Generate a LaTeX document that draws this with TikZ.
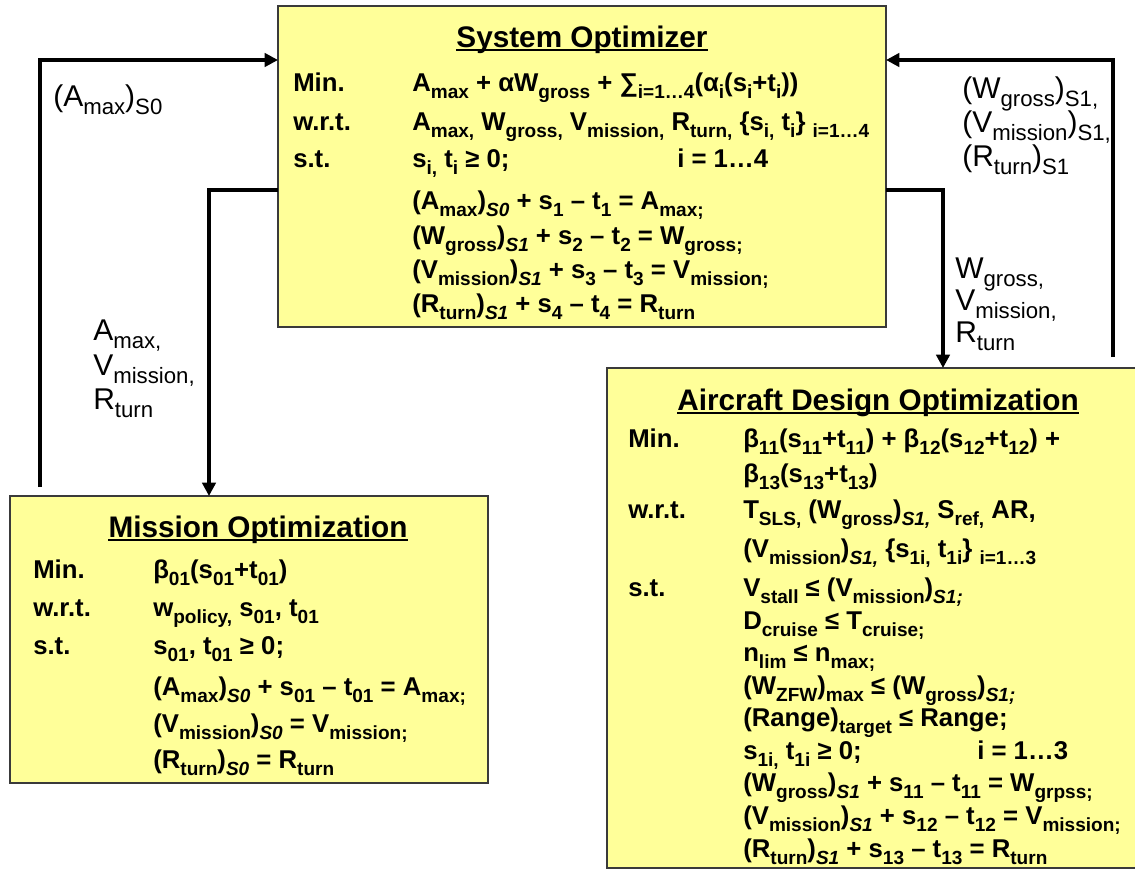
\documentclass[tikz,border=0pt]{standalone}
\usepackage{fontspec}
\setmainfont{Liberation Sans}
\usetikzlibrary{arrows.meta}
\newcommand{\sbx}[1]{\raisebox{-0.28em}{\scalebox{0.74}{#1}}}
\newcommand{\sS}[1]{\sbx{\itshape #1}}
\definecolor{boxfill}{HTML}{FFFF99}
\definecolor{boxline}{HTML}{3A3A3A}
\begin{document}
\begin{tikzpicture}[x=0.75pt,y=-0.75pt,
  box/.style={draw=boxline, line width=1.2pt, fill=boxfill, anchor=north west, inner sep=0pt, outer sep=0pt},
  body/.style={anchor=base west, inner sep=0pt, font=\fontsize{19.3}{23}\selectfont\bfseries},
  ttl/.style={anchor=base, inner sep=0pt, font=\fontsize{22.3}{26}\selectfont\bfseries},
  lbl/.style={anchor=base west, inner sep=0pt, font=\fontsize{22.5}{26}\selectfont},
  flow/.style={line width=3pt, -{Triangle[length=10pt,width=10pt]}},
  uline/.style={line width=1.5pt}]
\useasboundingbox (0,0) rectangle (1135,871);

% boxes
\node[box, minimum width=456pt, minimum height=240.75pt] (sys) at (278,6) {};
\node[box, minimum width=358.5pt, minimum height=215.25pt] (mis) at (10,496) {};
\node[box, minimum width=406.5pt, minimum height=375pt] (air) at (607,368) {};

% helper coordinates
\coordinate (p1) at (40,487);
\coordinate (p2) at (1113,357);
\coordinate (h1) at (0,60);
\coordinate (h2) at (0,190);
\coordinate (v1) at (209,0);
\coordinate (v2) at (943,0);

% connectors
\draw[flow] (p1) |- (sys.west |- h1);
\draw[flow] (sys.west |- h2) -| (v1 |- mis.north);
\draw[flow] (sys.east |- h2) -| (v2 |- air.north);
\draw[flow] (p2) |- (sys.east |- h1);

% connector labels
\node[lbl] (l1) at (53,106) {(A\sbx{max})\sbx{S0}};
\node[lbl] (l2) at (93,340) {A\sbx{max,}};
\node[lbl] (l3) at (93,375) {V\sbx{mission,}};
\node[lbl] (l4) at (93,409) {R\sbx{turn}};
\node[lbl] (r1) at (962,98) {(W\sbx{gross})\sbx{S1,}};
\node[lbl] (r2) at (962,132) {(V\sbx{mission})\sbx{S1,}};
\node[lbl] (r3) at (962,166) {(R\sbx{turn})\sbx{S1}};
\node[lbl] (r4) at (955,278) {W\sbx{gross,}};
\node[lbl] (r5) at (955,310) {V\sbx{mission,}};
\node[lbl] (r6) at (955,342) {R\sbx{turn}};

% System optimizer
\node[ttl] (sT) at (582,47) {System Optimizer};
\draw[uline] ([yshift=-2.5pt]sT.base west) -- ([yshift=-2.5pt]sT.base east);
\node[body] (s1a) at (293,91) {Min.};
\node[body] (s1b) at (412,91) {A\sbx{max} + αW\sbx{gross} + ∑\sbx{i=1…4}(α\sbx{i}(s\sbx{i}+t\sbx{i}))};
\node[body] (s2a) at (293,130) {w.r.t.};
\node[body] (s2b) at (412,130) {A\sbx{max,} W\sbx{gross,} V\sbx{mission,} R\sbx{turn,} \{s\sbx{i,} t\sbx{i}\} \sbx{i=1…4}};
\node[body] (s3a) at (293,167) {s.t.};
\node[body] (s3b) at (412,167) {s\sbx{i,} t\sbx{i} ≥ 0;};
\node[body] (s3c) at (677,167) {i = 1…4};
\node[body] (s4) at (412,209) {(A\sbx{max})\sS{S0} + s\sbx{1} – t\sbx{1} = A\sbx{max;}};
\node[body] (s5) at (412,244) {(W\sbx{gross})\sS{S1} + s\sbx{2} – t\sbx{2} = W\sbx{gross;}};
\node[body] (s6) at (412,278) {(V\sbx{mission})\sS{S1} + s\sbx{3} – t\sbx{3} = V\sbx{mission;}};
\node[body] (s7) at (412,312) {(R\sbx{turn})\sS{S1} + s\sbx{4} – t\sbx{4} = R\sbx{turn}};

% Mission optimization
\node[ttl] (mT) at (258,537) {Mission Optimization};
\draw[uline] ([yshift=-2.5pt]mT.base west) -- ([yshift=-2.5pt]mT.base east);
\node[body] (m1a) at (33,578) {Min.};
\node[body] (m1b) at (153,578) {β\sbx{01}(s\sbx{01}+t\sbx{01})};
\node[body] (m2a) at (33,616) {w.r.t.};
\node[body] (m2b) at (153,616) {w\sbx{policy,} s\sbx{01}, t\sbx{01}};
\node[body] (m3a) at (33,654) {s.t.};
\node[body] (m3b) at (153,654) {s\sbx{01}, t\sbx{01} ≥ 0;};
\node[body] (m4) at (153,695) {(A\sbx{max})\sS{S0} + s\sbx{01} – t\sbx{01} = A\sbx{max;}};
\node[body] (m5) at (153,732) {(V\sbx{mission})\sS{S0} = V\sbx{mission;}};
\node[body] (m6) at (153,768) {(R\sbx{turn})\sS{S0} = R\sbx{turn}};

% Aircraft design optimization
\node[ttl] (aT) at (878,410) {Aircraft Design Optimization};
\draw[uline] ([yshift=-2.5pt]aT.base west) -- ([yshift=-2.5pt]aT.base east);
\node[body] (a1a) at (628,447) {Min.};
\node[body] (a1b) at (743,447) {β\sbx{11}(s\sbx{11}+t\sbx{11}) + β\sbx{12}(s\sbx{12}+t\sbx{12}) +};
\node[body] (a2) at (743,482) {β\sbx{13}(s\sbx{13}+t\sbx{13})};
\node[body] (a3a) at (628,518) {w.r.t.};
\node[body] (a3b) at (743,518) {T\sbx{SLS,} (W\sbx{gross})\sS{S1,} S\sbx{ref,} AR,};
\node[body] (a4) at (743,557) {(V\sbx{mission})\sS{S1,} \{s\sbx{1i,} t\sbx{1i}\} \sbx{i=1…3}};
\node[body] (a5a) at (628,596) {s.t.};
\node[body] (a5b) at (743,596) {V\sbx{stall} ≤ (V\sbx{mission})\sS{S1;}};
\node[body] (a6) at (743,629) {D\sbx{cruise} ≤ T\sbx{cruise;}};
\node[body] (a7) at (743,661) {n\sbx{lim} ≤ n\sbx{max;}};
\node[body] (a8) at (743,694) {(W\sbx{ZFW})\sbx{max} ≤ (W\sbx{gross})\sS{S1;}};
\node[body] (a9) at (743,726) {(Range)\sbx{target} ≤ Range;};
\node[body] (a10) at (743,759) {s\sbx{1i,} t\sbx{1i} ≥ 0;};
\node[body] (a10c) at (977,759) {i = 1…3};
\node[body] (a11) at (743,791) {(W\sbx{gross})\sS{S1} + s\sbx{11} – t\sbx{11} = W\sbx{grpss;}};
\node[body] (a12) at (743,824) {(V\sbx{mission})\sS{S1} + s\sbx{12} – t\sbx{12} = V\sbx{mission;}};
\node[body] (a13) at (743,857) {(R\sbx{turn})\sS{S1} + s\sbx{13} – t\sbx{13} = R\sbx{turn}};
\end{tikzpicture}
\end{document}
